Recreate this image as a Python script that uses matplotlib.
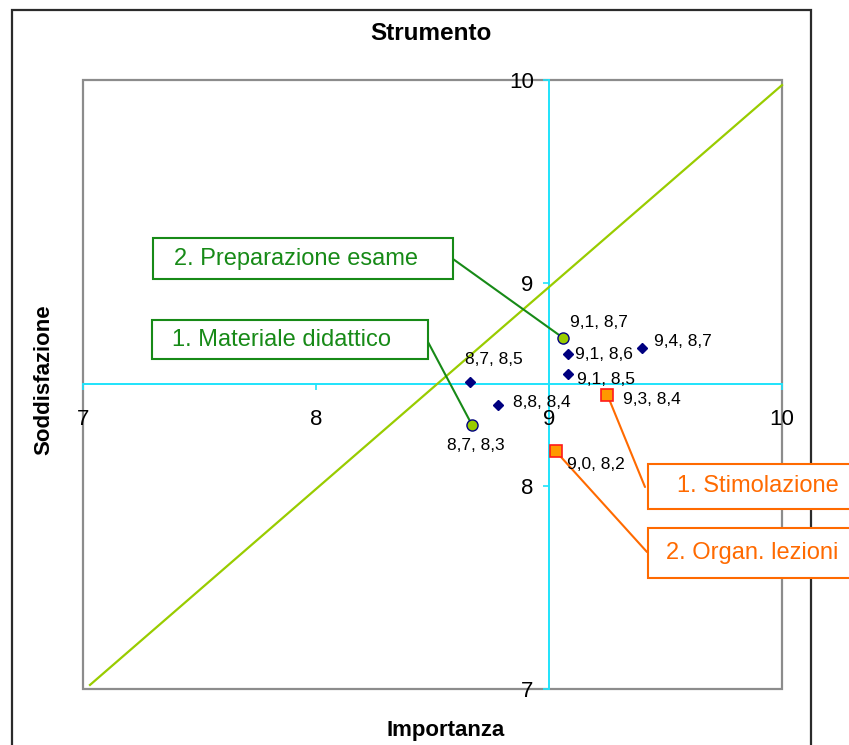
import matplotlib
matplotlib.use('Agg')
import matplotlib.pyplot as plt
from matplotlib.patches import Rectangle

plt.rcParams['font.family'] = ['Liberation Sans', 'DejaVu Sans']

W, H = 849, 745

# importanza (x) / soddisfazione (y)
focus_x = [9.06, 8.67]
focus_y = [8.73, 8.30]
focus_labels = ['9,1, 8,7', '8,7, 8,3']

other_x = [9.08, 9.08, 9.40, 8.66, 8.78]
other_y = [8.65, 8.55, 8.68, 8.51, 8.40]
other_labels = ['9,1, 8,6', '9,1, 8,5', '9,4, 8,7', '8,7, 8,5', '8,8, 8,4']

weak_x = [9.25, 9.03]
weak_y = [8.45, 8.17]
weak_labels = ['9,3, 8,4', '9,0, 8,2']

callout_focus = ['2. Preparazione esame', '1. Materiale didattico']
callout_weak = ['1. Stimolazione', '2. Organ. lezioni']

diag_x = [7.03, 10.0]
diag_y = [7.02, 9.975]

ticks = [7, 8, 9, 10]
tick_labels = ['7', '8', '9', '10']
cross_x, cross_y = 9, 8.5

# colours
CYAN = '#1fe3fb'
GREEN = '#178a17'
ORANGE = '#ff6a00'
NAVY = '#000080'

fig = plt.figure(figsize=(W / 100, H / 100), dpi=100)
fig.patch.set_facecolor('white')
ax = fig.add_axes([83 / W, 1 - 689 / H, 699 / W, 609 / H])

ax.set_xlim(7, 10)
ax.set_ylim(7, 10)

# crossing axes
for s in ['top', 'right']:
    ax.spines[s].set_visible(False)
ax.spines['left'].set_position(('data', cross_x))
ax.spines['bottom'].set_position(('data', cross_y))
for s in ['left', 'bottom']:
    ax.spines[s].set_color(CYAN)
    ax.spines[s].set_linewidth(1.4)
    ax.spines[s].set_zorder(1)
ax.set_xticks(ticks, tick_labels)
ax.set_yticks(ticks, tick_labels)
ax.tick_params(axis='both', direction='out', length=4, width=1.2, color=CYAN, labelsize=16)
ax.tick_params(axis='x', pad=13.5)
ax.tick_params(axis='y', pad=7)

# plot area frame
ax.add_patch(Rectangle((0, 0), 1, 1, transform=ax.transAxes, fill=False,
                       edgecolor='#8c8c8c', linewidth=1.6, clip_on=False, zorder=0.5))

ax.plot(diag_x, diag_y, color='#99cc00', linewidth=1.6, zorder=2, clip_on=False)

ax.plot(other_x, other_y, linestyle='none', marker='D', markersize=4.6,
        color=NAVY, zorder=5)
ax.plot(weak_x, weak_y, linestyle='none', marker='s', markersize=8.2,
        markerfacecolor='#ff9900', markeredgecolor='#ff1a1a', markeredgewidth=1.2, zorder=5)
ax.plot(focus_x, focus_y, linestyle='none', marker='o', markersize=8,
        markerfacecolor='#99cc00', markeredgecolor=NAVY, markeredgewidth=1.0, zorder=5)

# point labels, offsets in pixels (dx right, dy up)
focus_off = [(7, 15), (-25, -20)]
other_off = [(7, 0), (9, -5), (12, 6), (-5, 23), (15, 2)]
weak_off = [(16, -5), (11, -13)]
for xs, ys, labs, offs in [(focus_x, focus_y, focus_labels, focus_off),
                           (other_x, other_y, other_labels, other_off),
                           (weak_x, weak_y, weak_labels, weak_off)]:
    for x, y, lab, off in zip(xs, ys, labs, offs):
        ax.annotate(lab, (x, y), xytext=off, textcoords='offset pixels',
                    ha='left', va='center', fontsize=12.5, color='black', zorder=6)


def box(left, top, right, bottom, color):
    fig.add_artist(Rectangle((left / W, 1 - bottom / H), (right - left) / W, (bottom - top) / H,
                             transform=fig.transFigure, fill=True, facecolor='white',
                             edgecolor=color, linewidth=1.5, clip_on=False, zorder=4))


# callouts: box (left, top, right, bottom) in pixels, text left, leader start
focus_boxes = [(153, 238, 453, 279, 174, (453, 259)),
               (152, 320, 428, 359, 172, (428, 342))]
weak_boxes = [(648, 464, 900, 509, 677, (645, 487)),
              (648, 528, 900, 578, 666, (647, 552))]

for (l, t, r, b, tx, lead), txt, x, y in zip(focus_boxes, callout_focus, focus_x, focus_y):
    box(l, t, r, b, GREEN)
    fig.text(tx / W, 1 - (t + b) / 2 / H, txt, ha='left', va='center', fontsize=17,
             color=GREEN, zorder=5)
    ax.annotate('', xy=(x, y), xycoords='data', xytext=(lead[0], H - lead[1]),
                textcoords='figure pixels',
                arrowprops=dict(arrowstyle='-', color=GREEN, lw=1.5, shrinkA=0, shrinkB=0),
                zorder=3)

for (l, t, r, b, tx, lead), txt, x, y in zip(weak_boxes, callout_weak, weak_x, weak_y):
    box(l, t, r, b, ORANGE)
    fig.text(tx / W, 1 - (t + b) / 2 / H, txt, ha='left', va='center', fontsize=17,
             color=ORANGE, zorder=5)
    ax.annotate('', xy=(x, y), xycoords='data', xytext=(lead[0], H - lead[1]),
                textcoords='figure pixels',
                arrowprops=dict(arrowstyle='-', color=ORANGE, lw=1.5, shrinkA=0, shrinkB=0),
                zorder=3)

# titles
fig.text(431 / W, 1 - 40 / H, 'Strumento', ha='center', va='baseline',
         fontsize=17.5, fontweight='bold')
fig.text(446 / W, 1 - 736 / H, 'Importanza', ha='center', va='baseline',
         fontsize=16, fontweight='bold')
fig.text(44 / W, 1 - 380 / H, 'Soddisfazione', ha='center', va='center',
         rotation=90, fontsize=16, fontweight='bold')

# outer chart border
fig.add_artist(Rectangle((12 / W, -0.1), (811 - 12) / W, 1.1 - 10 / H,
                         transform=fig.transFigure, fill=False, edgecolor='#2b2b2b',
                         linewidth=1.6, clip_on=False))

fig.savefig('out.png', dpi=100, facecolor='white')
